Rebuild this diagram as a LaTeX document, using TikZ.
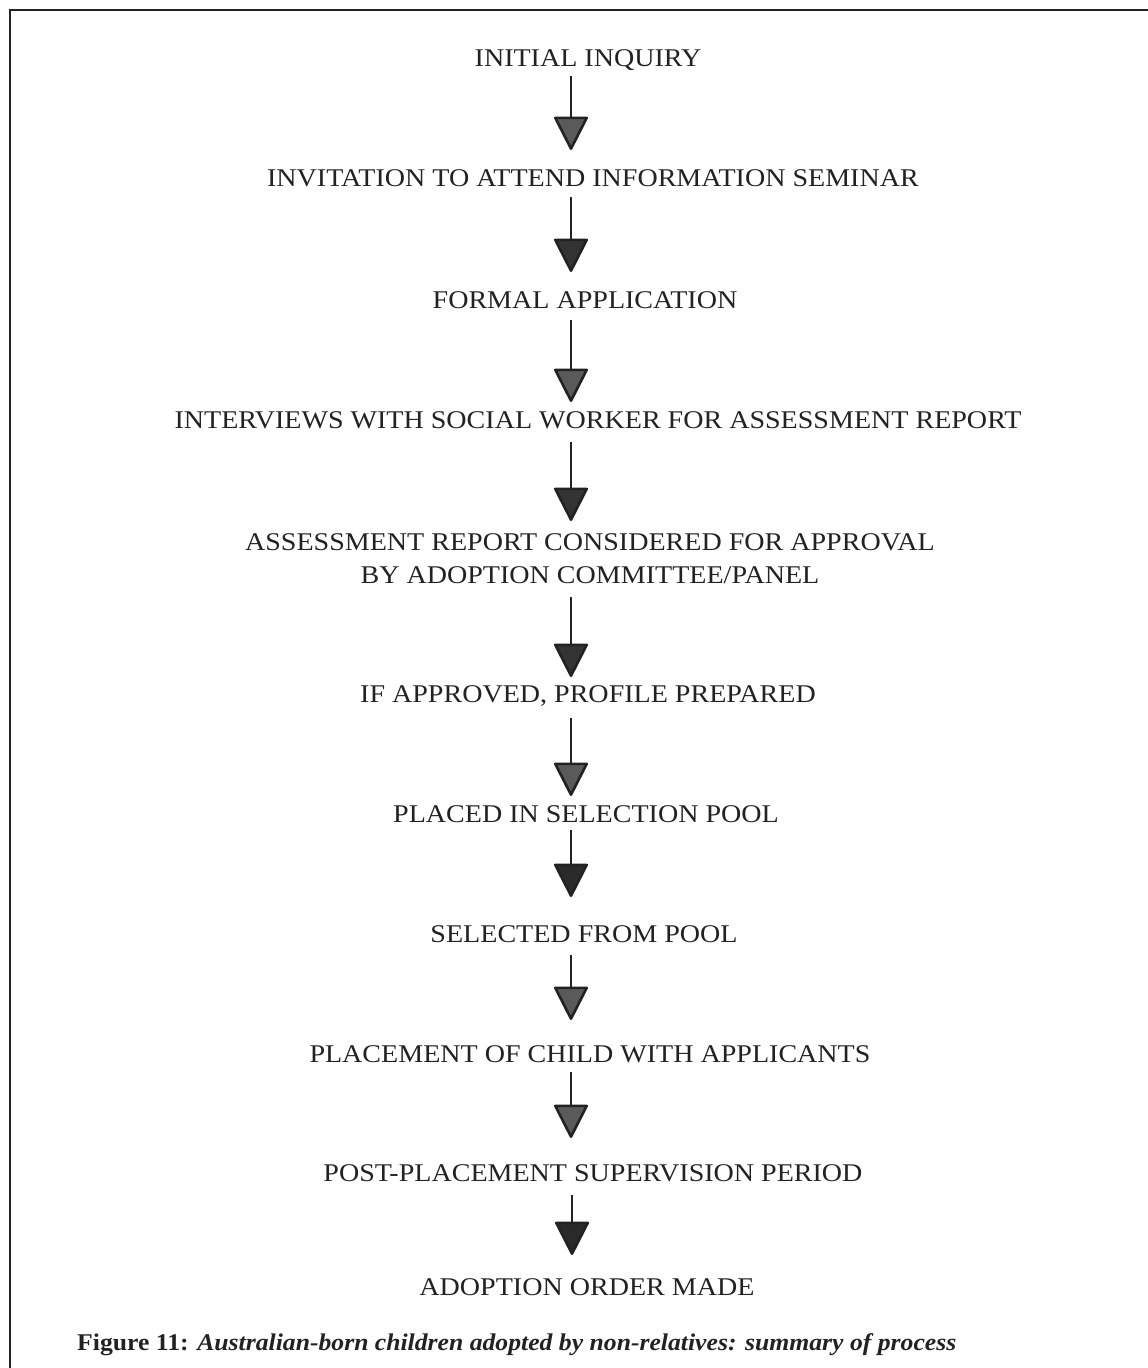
\documentclass[tikz,border=0pt]{standalone}
\usepackage{fontspec}
\setmainfont{Liberation Serif}
\usetikzlibrary{arrows.meta}
\definecolor{ink}{HTML}{222222}
\definecolor{tipgray}{HTML}{5A5A5A}
\definecolor{tipdark}{HTML}{333333}
\definecolor{tipblack}{HTML}{2A2A2A}
\newcommand{\wide}[1]{\scalebox{1.1}[1]{#1}}
\tikzset{
  x=1pt, y=-1pt,
  steptext/.style={anchor=base, inner sep=0pt, text=ink, font=\fontsize{25.5}{33}\selectfont, align=center},
  flow/.style={draw=ink, line width=2.6pt},
  flowgray/.style={flow, -{Triangle[length=35pt,width=35pt,fill=tipgray,round]}},
  flowdark/.style={flow, -{Triangle[length=35pt,width=35pt,fill=tipdark,round]}},
  flowblack/.style={flow, -{Triangle[length=35pt,width=35pt,fill=tipblack,round]}},
  frameline/.style={draw=ink, line width=2.8pt},
}
\begin{document}
\begin{tikzpicture}
\useasboundingbox (0,0) rectangle (1148,1368);
\fill[white] (0,0) rectangle (1148,1368);
% frame
\coordinate (fb) at (10,1368);
\coordinate (fc) at (10,10);
\coordinate (fr) at (1148,10);
\draw[frameline] (fb) -- (fc) -- (fr);
% steps
\node[steptext] (t1) at (588,66) {\wide{INITIAL INQUIRY}};
\node[steptext] (t2) at (593,186) {\wide{INVITATION TO ATTEND INFORMATION SEMINAR}};
\node[steptext] (t3) at (585,308) {\wide{FORMAL APPLICATION}};
\node[steptext] (t4) at (598,428) {\wide{INTERVIEWS WITH SOCIAL WORKER FOR ASSESSMENT REPORT}};
\node[steptext] (t5a) at (590,550) {\wide{ASSESSMENT REPORT CONSIDERED FOR APPROVAL}};
\node[steptext] (t5b) at (590,583) {\wide{BY ADOPTION COMMITTEE/PANEL}};
\node[steptext] (t6) at (588,702) {\wide{IF APPROVED, PROFILE PREPARED}};
\node[steptext] (t7) at (586,822) {\wide{PLACED IN SELECTION POOL}};
\node[steptext] (t8) at (584,942) {\wide{SELECTED FROM POOL}};
\node[steptext] (t9) at (590,1062) {\wide{PLACEMENT OF CHILD WITH APPLICANTS}};
\node[steptext] (t10) at (593,1181) {\wide{POST-PLACEMENT SUPERVISION PERIOD}};
\node[steptext] (t11) at (587,1295) {\wide{ADOPTION ORDER MADE}};
% caption
\node[anchor=base west, inner sep=0pt, text=ink, font=\fontsize{24}{30}\selectfont\bfseries] (cap) at (77,1350)
  {\scalebox{1.07}[1]{Figure 11: \itshape Australian-born children adopted by non-relatives: summary of process}};
% arrow endpoints
\coordinate (a1) at (571,76);   \coordinate (b1) at (571,150);
\coordinate (a2) at (571,197);  \coordinate (b2) at (571,272);
\coordinate (a3) at (571,320);  \coordinate (b3) at (571,402);
\coordinate (a4) at (571,442);  \coordinate (b4) at (571,521);
\coordinate (a5) at (571,597);  \coordinate (b5) at (571,677);
\coordinate (a6) at (571,718);  \coordinate (b6) at (571,796);
\coordinate (a7) at (571,830);  \coordinate (b7) at (571,897);
\coordinate (a8) at (571,955);  \coordinate (b8) at (571,1020);
\coordinate (a9) at (571,1072); \coordinate (b9) at (571,1138);
\coordinate (a10) at (572,1195); \coordinate (b10) at (572,1255);
\draw[flowgray]  (a1) -- (b1);
\draw[flowdark]  (a2) -- (b2);
\draw[flowgray]  (a3) -- (b3);
\draw[flowdark]  (a4) -- (b4);
\draw[flowdark]  (a5) -- (b5);
\draw[flowgray]  (a6) -- (b6);
\draw[flowblack] (a7) -- (b7);
\draw[flowgray]  (a8) -- (b8);
\draw[flowgray]  (a9) -- (b9);
\draw[flowblack] (a10) -- (b10);
\end{tikzpicture}
\end{document}
